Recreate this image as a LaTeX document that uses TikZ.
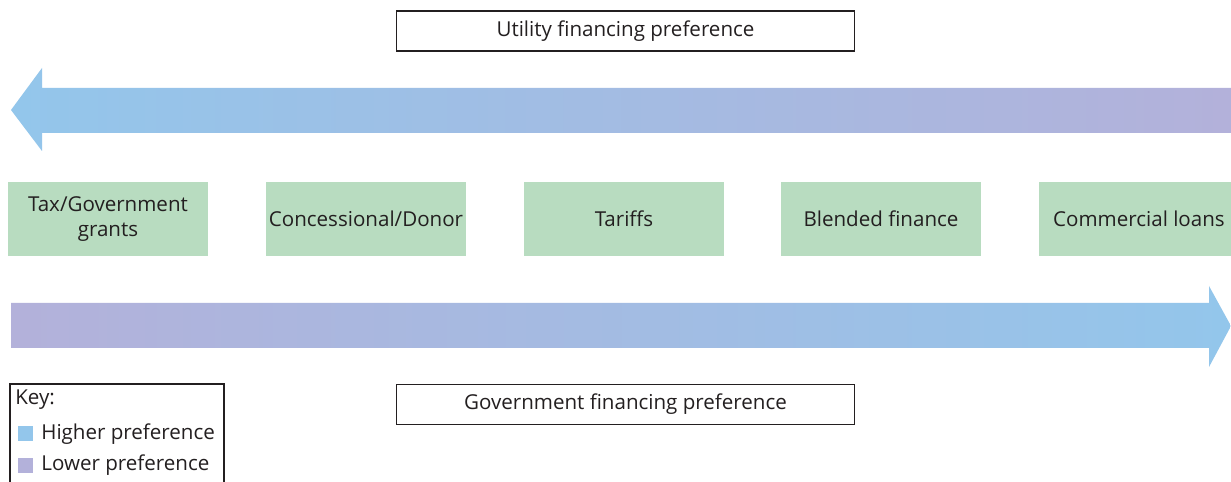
\documentclass[tikz,border=0pt]{standalone}
\usepackage{fontspec}
\setmainfont{Open Sans}
\definecolor{hiblue}{HTML}{93C6EB}
\definecolor{lopurp}{HTML}{B3B1DA}
\definecolor{boxgreen}{HTML}{B8DCC0}
\definecolor{txt}{HTML}{231F20}
\begin{document}
\begin{tikzpicture}[x=0.02cm,y=-0.02cm,
  every node/.style={text=txt,font=\fontsize{11.7}{14.2}\selectfont},
  optbox/.style={fill=boxgreen,draw=none,minimum width=4cm,minimum height=1.48cm,align=center,inner sep=0pt},
  labelbox/.style={draw=txt,line width=0.6pt,fill=white,minimum width=9.18cm,minimum height=0.8cm,inner sep=0pt},
  keysq/.style={minimum size=0.3cm,inner sep=0pt}]
\clip (0,0) rectangle (1231,482);
\fill[white] (0,0) rectangle (1231,482);
% top arrow (utility preference, pointing left)
\shade[left color=hiblue,right color=lopurp]
  (11,110) -- (42,68) -- (42,88) -- (1231,88) -- (1231,133) -- (42,133) -- (42,151) -- cycle;
% bottom arrow (government preference, pointing right)
\shade[left color=lopurp,right color=hiblue]
  (11,303) -- (1209,303) -- (1209,286) -- (1231,326) -- (1209,367) -- (1209,348) -- (11,348) -- cycle;
% label boxes
\node[labelbox] (util) at (625.5,31) {Utility financing preference};
\node[labelbox] (gov) at (625.5,404.5) {Government financing preference};
% option boxes
\node[optbox] (tax) at (108,219) {Tax/Government\\grants};
\node[optbox] (conc) at (366,219) {Concessional/Donor};
\node[optbox] (tar) at (624,219) {Tariffs};
\node[optbox] (blend) at (881,219) {Blended finance};
\node[optbox] (comm) at (1139,219) {Commercial loans};
% key
\draw[draw=txt,line width=0.6pt] (10,384) rectangle (224,490);
\node[anchor=west,inner sep=0pt] (keyt) at (15,400) {Key:};
\node[keysq,fill=hiblue] (khi) at (25.5,434) {};
\node[anchor=west,inner sep=0pt] (khit) at (41,434) {Higher preference};
\node[keysq,fill=lopurp] (klo) at (25.5,465.5) {};
\node[anchor=west,inner sep=0pt] (klot) at (41,465) {Lower preference};
\end{tikzpicture}
\end{document}
